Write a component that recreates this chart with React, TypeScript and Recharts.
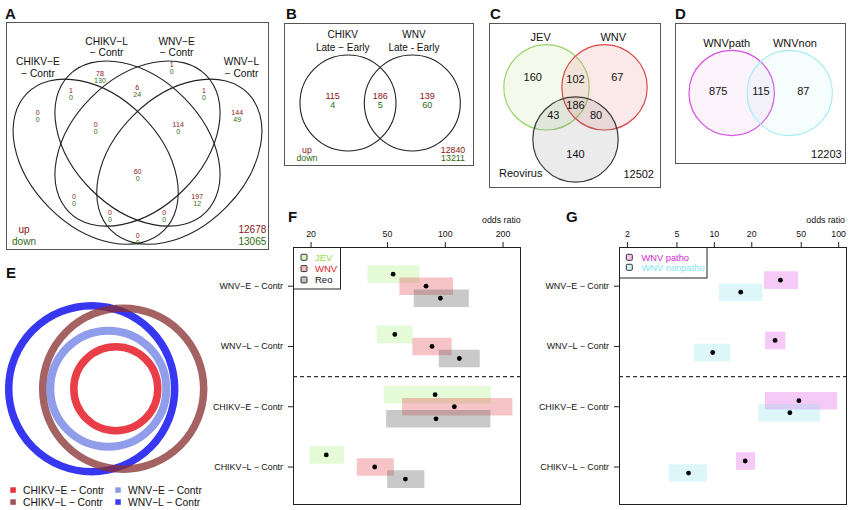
import React from 'react';
import { ScatterChart, Scatter, XAxis, YAxis, ReferenceArea, ReferenceLine } from 'recharts';

const FONT = '"Liberation Sans", Arial, Helvetica, sans-serif';
const UP = '#8b1414';
const DOWN = '#2f6a14';

// ---------------- DATA ----------------
// Panel A (4-set Venn, up / down counts)
const aNames = ['CHIKV−E', 'CHIKV−L', 'WNV−E', 'WNV−L'];
const aSuffix = '− Contr';
const aUp = [0, 78, 1, 144, 1, 6, 1, 0, 114, 60, 0, 197, 0, 0, 0];
const aDown = [0, 130, 0, 49, 0, 24, 0, 0, 0, 0, 0, 12, 0, 0, 0];
const aRest = [12678, 13065];

// Panel B
const bNames = ['CHIKV', 'WNV'];
const bSub = ['Late − Early', 'Late - Early'];
const bUp = [115, 186, 139];
const bDown = [4, 5, 60];
const bRest = [12840, 13211];

// Panel C
const cNames = ['JEV', 'WNV', 'Reovirus'];
const cCounts = [160, 102, 67, 43, 186, 80, 140];
const cRest = 12502;

// Panel D
const dNames = ['WNVpath', 'WNVnon'];
const dCounts = [875, 115, 87];
const dRest = 12203;

// Panel E
const eNames = ['CHIKV−E − Contr', 'CHIKV−L − Contr', 'WNV−E − Contr', 'WNV−L − Contr'];

// Panels F, G (odds ratios; rows: WNV-E, WNV-L, CHIKV-E, CHIKV-L)
const rowLabels = ['WNV−E − Contr', 'WNV−L − Contr', 'CHIKV−E − Contr', 'CHIKV−L − Contr'];
const fJevEst = [53.5, 54.6, 88.5, 24.0];
const fJevLo = [39.3, 44.0, 47.8, 19.6];
const fJevHi = [73.3, 67.7, 173, 29.7];
const fWnvEst = [79.4, 85.3, 111.5, 42.9];
const fWnvLo = [57.7, 67.4, 59.6, 34.6];
const fWnvHi = [109.8, 108, 223.6, 54.0];
const fReoEst = [94.3, 118.4, 89.5, 62.0];
const fReoLo = [68.5, 92.5, 49.2, 49.8];
const fReoHi = [132.6, 151.2, 171.8, 77.8];
const fTicks = [20, 50, 100, 200];
const gPathoEst = [34.0, 30.8, 47.9, 17.7];
const gPathoLo = [25.1, 25.6, 25.5, 14.9];
const gPathoHi = [47.2, 37.3, 96.9, 21.3];
const gNonEst = [16.3, 9.7, 40.5, 6.2];
const gNonLo = [10.9, 6.9, 22.6, 4.3];
const gNonHi = [24.3, 13.4, 71.1, 8.7];
const gTicks = [2, 5, 10, 20, 50, 100];

// ---------------- LAYOUT ----------------
const A_L = { left: 6, top: 22, width: 263, height: 228, x: [-20, 420], y: [24, 401] };
const aEllipseGeom = [
  { x: 130, y: 170, angle: 45 },
  { x: 200, y: 200, angle: 45 },
  { x: 200, y: 200, angle: 135 },
  { x: 270, y: 170, angle: 135 },
];
const aNamePos = [[33.5, 325.7], [148.4, 360], [265.5, 360], [374, 325.7]];
const aCountPos = [[33, 246], [137.2, 310.8], [257.1, 325.7], [366.8, 246], [88.7, 281.9], [199.6, 287.6], [311.1, 281.9], [130, 226.5], [268.1, 226.5], [200.2, 148.8], [93.7, 107.5], [299.9, 107.5], [153.9, 79.4], [244.7, 79.4], [200.2, 41.4]];

const B_L = { left: 284, top: 23, width: 190, height: 143, x: [-2.004, 1.954], y: [-1.3125, 1.667] };
const bCircleX = [-0.671, 0.669];
const bNamePos = [[-0.78, 1.292], [0.704, 1.292]];
const bCountX = [-0.99, 0, 0.98];

const C_L = { left: 489, top: 23, width: 172, height: 165, x: [-2.026, 2.002], y: [-2.358, 1.506] };
const cCircles = [[-0.679, 0], [0.679, 0], [0, -1.222]];
const cStroke = ['#9bd36b', '#d9474a', '#3a3a3a'];
const cFill = ['rgba(160,220,110,0.13)', 'rgba(230,110,110,0.16)', 'rgba(110,110,110,0.14)'];
const cNamePos = [[-0.815, 1.171], [0.885, 1.171], [-1.283, -2.0]];
const cCountPos = [[-1.002, 0.248], [0, 0.187], [0.979, 0.248], [-0.52, -0.649], [0, -0.422], [0.48, -0.649], [0, -1.562]];

const D_L = { left: 675, top: 23, width: 171, height: 141, x: [-2.007, 1.998], y: [-1.663, 1.639] };
const dCircleX = [-0.679, 0.679];
const dStroke = ['#d54ee0', '#a6eef2'];
const dFill = ['rgba(230,140,240,0.1)', 'rgba(170,235,240,0.1)'];
const dNamePos = [[-0.796, 1.178], [0.803, 1.178]];
const dCountX = [-0.993, 0.007, 0.998];

const E_L = { left: 0, top: 296, width: 212, height: 186, x: [-115.8, 96.2], y: [-93.3, 92.7] };
const eGeom = [
  { x: 0, r: 42, sw: 7.5 },
  { x: 7.4, r: 80.5, sw: 7.5 },
  { x: -7.5, r: 58, sw: 8 },
  { x: -24.1, r: 83, sw: 7.5 },
];
const eColors = ['rgba(228,20,30,0.82)', 'rgba(135,45,45,0.75)', 'rgba(95,115,225,0.7)', 'rgba(20,20,240,0.85)'];
const eSolid = ['#e6363c', '#a05656', '#8a9be6', '#3a3af2'];
const eDrawOrder = [3, 1, 2, 0];

const rowY = [4, 3, 2, 1];
const HALF = 0.146;

// ---------------- COMPONENTS ----------------
const renderLabel = (p: any) => {
  const d = p.payload;
  const n = d.lines.length;
  return (
    <g>
      {d.lines.map((ln: any, i: number) => (
        <text key={i} x={p.cx} y={p.cy + (i - (n - 1) / 2) * d.lh} textAnchor={d.anchor || 'middle'}
          dominantBaseline="central" fontSize={d.size} fill={ln.c || '#111'} fontFamily={FONT}>{ln.t}</text>
      ))}
    </g>
  );
};

function Venn({ layout, shapes, labels }: any) {
  const { left, top, width, height, x, y } = layout;
  const sx = width / (x[1] - x[0]);
  const sy = height / (y[1] - y[0]);
  const renderShape = (p: any) => {
    const d = p.payload;
    return (
      <ellipse cx={p.cx} cy={p.cy} rx={d.rx * sx} ry={d.ry * sy}
        transform={`rotate(${d.angle || 0} ${p.cx} ${p.cy})`}
        fill={d.fill} stroke={d.stroke} strokeWidth={d.sw} />
    );
  };
  return (
    <div style={{ position: 'absolute', left, top, width, height }}>
      <ScatterChart width={width} height={height} margin={{ top: 0, right: 0, bottom: 0, left: 0 }}>
        <XAxis type="number" dataKey="x" domain={x} hide allowDataOverflow />
        <YAxis type="number" dataKey="y" domain={y} hide allowDataOverflow />
        <Scatter data={shapes} isAnimationActive={false} shape={renderShape} />
        <Scatter data={labels} isAnimationActive={false} shape={renderLabel} />
      </ScatterChart>
    </div>
  );
}

function Forest({ layout, xDomain, xTicks, series }: any) {
  const { left, top, width, height, yWidth, right } = layout;
  const areas: any[] = [];
  const dots: any[] = [];
  series.forEach((s: any, si: number) => {
    rowY.forEach((rv, i) => {
      areas.push(
        <ReferenceArea key={`a${si}-${i}`} x1={s.lo[i]} x2={s.hi[i]} y1={rv + s.off - HALF} y2={rv + s.off + HALF}
          fill={s.fill} fillOpacity={1} stroke="none" ifOverflow="visible" />
      );
      dots.push({ x: s.est[i], y: rv + s.off });
    });
  });
  const yTick = (p: any) => (
    <text x={p.x} y={p.y} textAnchor="end" dominantBaseline="central" fontSize={8.9} fill="#111" fontFamily={FONT}>
      {rowLabels[rowY.indexOf(p.payload.value)]}
    </text>
  );
  return (
    <div style={{ position: 'absolute', left, top, width, height }}>
      <ScatterChart width={width} height={height} margin={{ top: 0, right, bottom: 5, left: 0 }}>
        <XAxis type="number" dataKey="x" scale="log" domain={xDomain} allowDataOverflow ticks={xTicks} interval={0}
          orientation="top" height={42} axisLine={false} tickLine={{ stroke: '#222' }} tickSize={5} tickMargin={5}
          tick={{ fontSize: 8.8, fill: '#111', fontFamily: FONT }} />
        <YAxis type="number" dataKey="y" domain={[0.37, 4.65]} allowDataOverflow ticks={rowY} interval={0}
          width={yWidth} axisLine={false} tickLine={{ stroke: '#222' }} tickSize={5} tickMargin={5} tick={yTick} />
        {areas}
        <ReferenceLine y={2.5} stroke="#333" strokeWidth={1.2} strokeDasharray="4 3" />
        <Scatter data={dots} isAnimationActive={false}
          shape={(p: any) => <circle cx={p.cx} cy={p.cy} r={2.4} fill="#000" />} />
      </ScatterChart>
    </div>
  );
}

const Box = ({ l, t, w, h, c = '#555' }: any) => (
  <div style={{ position: 'absolute', left: l, top: t, width: w, height: h, border: `1px solid ${c}`, boxSizing: 'border-box', pointerEvents: 'none' }} />
);

export default function App() {
  // Panel A
  const aShapes = aEllipseGeom.map((g) => ({ ...g, rx: 162, ry: 108, fill: 'none', stroke: '#222', sw: 1.1 }));
  const aLabels = [
    ...aNames.map((n, i) => ({ x: aNamePos[i][0], y: aNamePos[i][1], lines: [{ t: n }, { t: aSuffix }], size: 10.2, lh: 11.5 })),
    ...aUp.map((u, i) => ({ x: aCountPos[i][0], y: aCountPos[i][1], lines: [{ t: String(u), c: UP }, { t: String(aDown[i]), c: DOWN }], size: 7, lh: 7 })),
    { x: 10.1, y: 48.8, lines: [{ t: 'up', c: UP }, { t: 'down', c: DOWN }], size: 10, lh: 12 },
    { x: 392.2, y: 48.8, lines: [{ t: String(aRest[0]), c: UP }, { t: String(aRest[1]), c: DOWN }], size: 10, lh: 12 },
  ];
  // Panel B
  const bShapes = bCircleX.map((cx) => ({ x: cx, y: 0, rx: 1, ry: 1, fill: 'none', stroke: '#222', sw: 1.1 }));
  const bLabels = [
    ...bNames.map((n, i) => ({ x: bNamePos[i][0], y: bNamePos[i][1], lines: [{ t: n }, { t: bSub[i] }], size: 10, lh: 13.4 })),
    ...bUp.map((u, i) => ({ x: bCountX[i], y: 0.052, lines: [{ t: String(u), c: UP }, { t: String(bDown[i]), c: DOWN }], size: 9, lh: 8.6 })),
    { x: -1.525, y: -1.062, lines: [{ t: 'up', c: UP }, { t: 'down', c: DOWN }], size: 8.8, lh: 8.6 },
    { x: 1.517, y: -1.062, lines: [{ t: String(bRest[0]), c: UP }, { t: String(bRest[1]), c: DOWN }], size: 8.8, lh: 8.6 },
  ];
  // Panel C
  const cShapes = cCircles.map((c, i) => ({ x: c[0], y: c[1], rx: 1, ry: 1, fill: cFill[i], stroke: cStroke[i], sw: 1.2 }));
  const cLabels = [
    ...cNames.map((n, i) => ({ x: cNamePos[i][0], y: cNamePos[i][1], lines: [{ t: n }], size: 11, lh: 12 })),
    ...cCounts.map((v, i) => ({ x: cCountPos[i][0], y: cCountPos[i][1], lines: [{ t: String(v) }], size: 11, lh: 12 })),
    { x: 1.838, y: -2.03, lines: [{ t: String(cRest) }], size: 11, lh: 12, anchor: 'end' },
  ];
  // Panel D
  const dShapes = dCircleX.map((cx, i) => ({ x: cx, y: 0, rx: 1, ry: 1, fill: dFill[i], stroke: dStroke[i], sw: 1.2 }));
  const dLabels = [
    ...dNames.map((n, i) => ({ x: dNamePos[i][0], y: dNamePos[i][1], lines: [{ t: n }], size: 11, lh: 12 })),
    ...dCounts.map((v, i) => ({ x: dCountX[i], y: 0.047, lines: [{ t: String(v) }], size: 11, lh: 12 })),
    { x: 1.897, y: -1.429, lines: [{ t: String(dRest) }], size: 11, lh: 12, anchor: 'end' },
  ];
  // Panel E
  const eShapes = eDrawOrder.map((k) => ({ x: eGeom[k].x, y: 0, rx: eGeom[k].r, ry: eGeom[k].r, fill: 'none', stroke: eColors[k], sw: eGeom[k].sw }));

  const fSeries = [
    { est: fJevEst, lo: fJevLo, hi: fJevHi, off: 0.2, fill: 'rgba(150,235,90,0.25)' },
    { est: fWnvEst, lo: fWnvLo, hi: fWnvHi, off: 0, fill: 'rgba(225,60,70,0.3)' },
    { est: fReoEst, lo: fReoLo, hi: fReoHi, off: -0.2, fill: 'rgba(90,90,90,0.33)' },
  ];
  const gSeries = [
    { est: gPathoEst, lo: gPathoLo, hi: gPathoHi, off: 0.1, fill: 'rgba(225,80,225,0.3)' },
    { est: gNonEst, lo: gNonLo, hi: gNonHi, off: -0.1, fill: 'rgba(120,220,235,0.25)' },
  ];
  const fLegend = [
    { t: 'JEV', c: '#8fe04a', f: 'rgba(150,235,90,0.35)' },
    { t: 'WNV', c: '#e0202a', f: 'rgba(225,60,70,0.35)' },
    { t: 'Reo', c: '#111', f: 'rgba(90,90,90,0.35)' },
  ];
  const gLegend = [
    { t: 'WNV patho', c: '#d22ad2', f: 'rgba(225,80,225,0.35)' },
    { t: 'WNV nonpatho', c: '#7fe4ee', f: 'rgba(120,220,235,0.3)' },
  ];

  return (
    <div style={{ position: 'absolute', left: 0, top: 0, width: 851, height: 510, background: '#fff', overflow: 'hidden', fontFamily: FONT }}>
      <Venn layout={A_L} shapes={aShapes} labels={aLabels} />
      <Venn layout={B_L} shapes={bShapes} labels={bLabels} />
      <Venn layout={C_L} shapes={cShapes} labels={cLabels} />
      <Venn layout={D_L} shapes={dShapes} labels={dLabels} />
      <Venn layout={E_L} shapes={eShapes} labels={[]} />
      <Forest layout={{ left: 210, top: 205, width: 320, height: 305, yWidth: 83, right: 9 }} xDomain={[16.1, 248]} xTicks={fTicks} series={fSeries} />
      <Forest layout={{ left: 530, top: 205, width: 321, height: 305, yWidth: 89, right: 4 }} xDomain={[1.71, 116.7]} xTicks={gTicks} series={gSeries} />
      <Box l={6} t={22} w={263} h={228} />
      <Box l={284} t={23} w={190} h={143} />
      <Box l={489} t={23} w={172} h={165} />
      <Box l={675} t={23} w={171} h={141} />
      <Box l={293} t={247} w={228} h={258} c="#222" />
      <Box l={619} t={247} w={228} h={258} c="#222" />
      <svg width={851} height={510} style={{ position: 'absolute', left: 0, top: 0, pointerEvents: 'none' }} fontFamily={FONT}>
        {[['A', 5, 18.5], ['B', 286, 18.5], ['C', 490, 18.5], ['D', 675, 18.5], ['E', 6, 278], ['F', 288, 221.5], ['G', 566, 221.5]].map(([t, x, y]: any) => (
          <text key={t} x={x} y={y} fontSize={15} fontWeight="bold" fill="#111">{t}</text>
        ))}
        <text x={520.7} y={223} fontSize={8.8} textAnchor="end" fill="#111">odds ratio</text>
        <text x={845} y={223} fontSize={8.8} textAnchor="end" fill="#111">odds ratio</text>
        {/* F legend */}
        <rect x={293.5} y={247.5} width={47} height={41.5} fill="#fff" stroke="#222" strokeWidth={1} />
        {fLegend.map((it, i) => (
          <g key={it.t}>
            <rect x={301} y={254.3 + i * 11.3} width={6} height={6} rx={1} fill={it.f} stroke="#333" strokeWidth={1} />
            <text x={315} y={260.8 + i * 11.3} fontSize={9.5} fill={it.c}>{it.t}</text>
          </g>
        ))}
        {/* G legend */}
        <rect x={619.5} y={247.5} width={87.5} height={30.5} fill="#fff" stroke="#222" strokeWidth={1} />
        {gLegend.map((it, i) => (
          <g key={it.t}>
            <rect x={626.3} y={254.3 + i * 10} width={6} height={6} rx={1} fill={it.f} stroke="#333" strokeWidth={1} />
            <text x={641.5} y={260.8 + i * 10} fontSize={9.3} fill={it.c}>{it.t}</text>
          </g>
        ))}
        {/* E legend */}
        {eNames.map((n, i) => {
          const col = i < 2 ? 0 : 1;
          const row = i % 2;
          return (
            <g key={n}>
              <rect x={10.3 + col * 105} y={487.3 + row * 12} width={5.5} height={5.5} fill={eSolid[i]} />
              <text x={23 + col * 105} y={493.8 + row * 12} fontSize={10.3} fill="#111">{n}</text>
            </g>
          );
        })}
      </svg>
    </div>
  );
}
